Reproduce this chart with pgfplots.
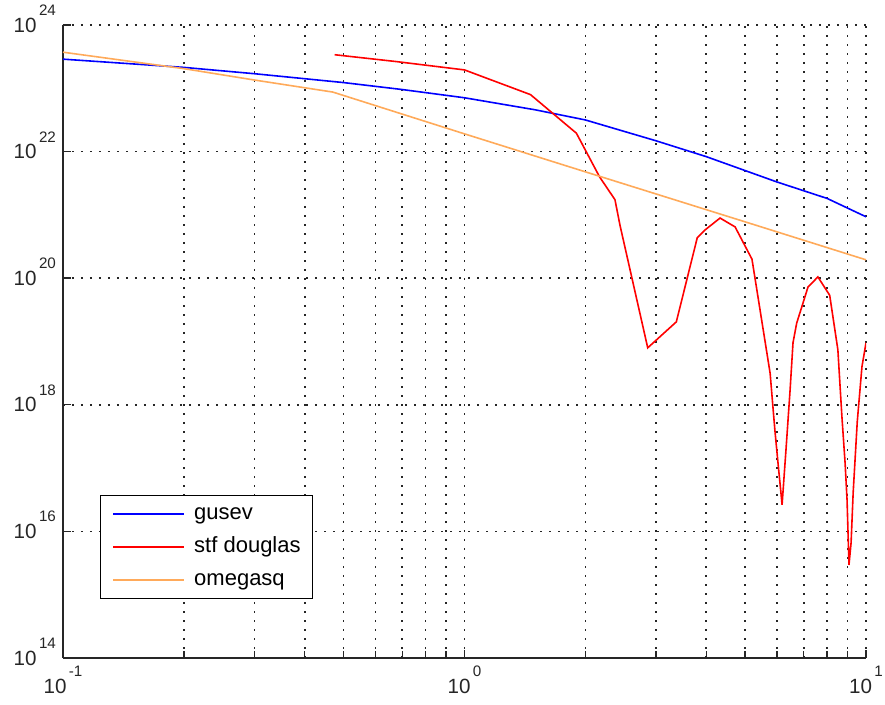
\documentclass[border=0pt]{standalone}
\usepackage{pgfplots}
\pgfplotsset{compat=1.18}
\usepackage{fontspec}
\setmainfont{Liberation Sans}
\definecolor{cblue}{RGB}{0,0,255}
\definecolor{cred}{RGB}{255,0,0}
\definecolor{corange}{RGB}{255,170,90}
\newcommand{\tl}[1]{10\kern1.2pt\smash{\raisebox{8.3pt}{\fontsize{7.6}{8}\selectfont #1}}}
\begin{document}
\begin{tikzpicture}
\begin{axis}[
  name=ax,
  scale only axis,
  width=401.5pt, height=316.5pt,
  xmode=log, ymode=log,
  xmin=0.1, xmax=10, ymin=1e14, ymax=1e24,
  axis x line*=bottom, axis y line*=left,
  axis line style={line width=0.7pt, black!85},
  xtick={0.1,1,10},
  xticklabels={\tl{-1},\tl{0},\tl{1}},
  minor xtick={0.2,0.3,0.4,0.5,0.6,0.7,0.8,0.9,2,3,4,5,6,7,8,9},
  ytick={1e14,1e16,1e18,1e20,1e22,1e24},
  yticklabels={\tl{14},\tl{16},\tl{18},\tl{20},\tl{22},\tl{24}},
  yminorticks=false,
  tick align=inside,
  major tick length=4pt, minor tick length=3.5pt,
  tick style={line width=0.7pt, black!85},
  ticklabel style={font=\fontsize{10.3}{12}\selectfont, text=black!85},
  xticklabel style={yshift=-7pt},
  grid=both,
  major grid style={black!85, line width=0.8pt, dash pattern=on 0.8pt off 3.7pt},
  minor grid style={black!85, line width=0.8pt, dash pattern=on 0.8pt off 3.7pt},
  legend cell align=left,
  legend style={at={(0.046,0.093)}, anchor=south west, draw=black, line width=0.7pt,
    fill=white, font=\fontsize{11}{13}\selectfont,
    inner xsep=6pt, inner ysep=4pt, row sep=6pt,
    nodes={inner sep=0pt, text height=8pt, text depth=2.5pt},
    /tikz/every odd column/.append style={column sep=4.5pt}},
  legend image code/.code={\draw[#1] (0pt,0pt) -- (35.5pt,0pt);},
]
\addplot[cblue, line width=0.8pt] coordinates {
(0.1,2.884e23) (0.2,2.138e23) (0.3,1.698e23) (0.5,1.230e23) (0.7,9.55e22)
(1,7.08e22) (1.5,4.57e22) (2,3.16e22) (3,1.48e22) (4,8.32e21)
(6,3.31e21) (8,1.82e21) (10,9.33e20)
};
\addlegendentry{gusev}
\addplot[cred, line width=0.8pt] coordinates {
(0.475,3.388e23) (0.68,2.63e23) (1.0,1.95e23) (1.46,7.943e22) (1.9,1.95e22)
(2.17,3.981e21) (2.37,1.738e21) (2.44,6.8e20) (2.86,7.943e18) (3.37,2.042e19)
(3.80,4.365e20) (3.97,5.754e20) (4.33,8.913e20) (4.72,6.457e20) (5.20,1.995e20)
(5.77,3.162e18) (5.93,3.981e17) (6.05,1.047e17) (6.14,4.074e16) (6.18,2.63e16)
(6.32,1.95e17) (6.47,1.698e18) (6.58,9.55e18) (6.72,1.95e19) (6.97,4.074e19)
(7.17,7.244e19) (7.59,1.047e20) (8.12,5.37e19) (8.51,7.413e18) (8.71,6.457e17)
(8.87,1.202e17) (8.97,3.162e16) (9.07,2.951e15) (9.18,6.607e15) (9.29,4.074e16)
(9.51,5.37e17) (9.77,3.981e18) (10,9.55e18)
};
\addlegendentry{stf douglas}
\addplot[corange, line width=0.8pt] coordinates {
(0.1,3.715e23) (0.2,2.042e23) (0.3,1.349e23) (0.47,8.71e22) (1,1.905e22)
(2,4.786e21) (5,7.762e20) (10,1.95e20)
};
\addlegendentry{omegasq}
\end{axis}
\pgfresetboundingbox
\path ([shift={(-31.5pt,-23pt)}]ax.south west) rectangle ([shift={(9.5pt,12.5pt)}]ax.north east);
\end{tikzpicture}
\end{document}
